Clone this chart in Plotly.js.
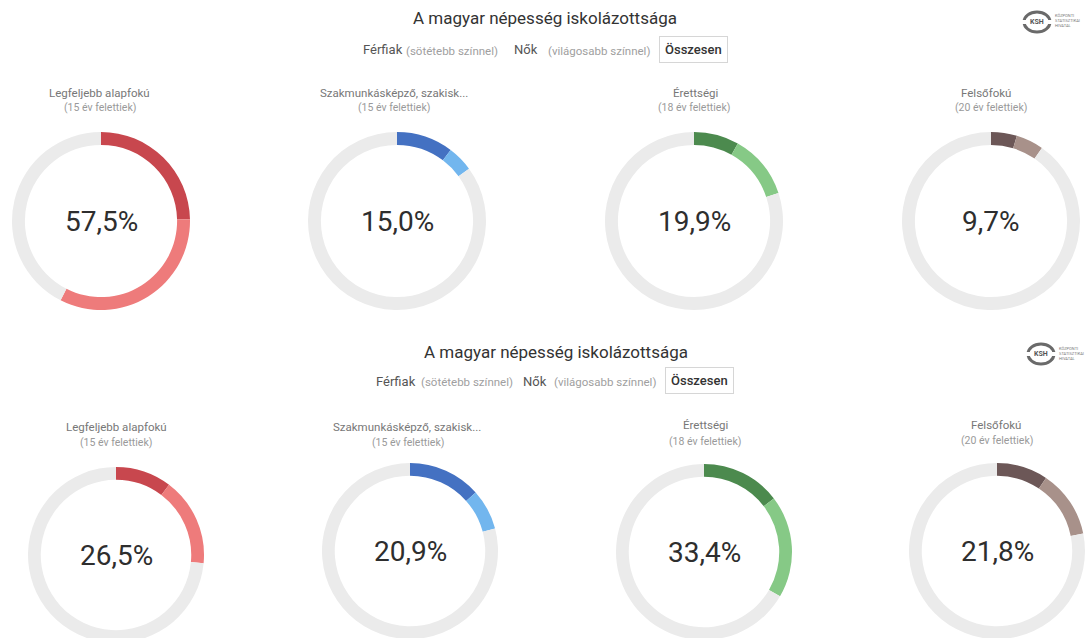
<!DOCTYPE html>
<html>
<head>
<meta charset="utf-8">
<script src="https://cdn.plot.ly/plotly-3.0.1.min.js"></script>
<style>
html,body{margin:0;padding:0;overflow:hidden;background:#fff;}
#chart{width:1089px;height:650px;}
</style>
</head>
<body>
<div id="chart"></div>
<script>
// ---- data ----
const categories = ["Legfeljebb alapfokú", "Szakmunkásképző, szakisk...", "Érettségi", "Felsőfokú"];
const ageNotes = ["(15 év felettiek)", "(15 év felettiek)", "(18 év felettiek)", "(20 év felettiek)"];
const menTop = [24.7, 10.3, 8.2, 4.7];
const womenTop = [32.8, 4.7, 11.7, 5.0];
const totalTop = [57.5, 15.0, 19.9, 9.7];
const menBottom = [10.3, 13.4, 14.6, 9.4];
const womenBottom = [16.2, 7.5, 18.8, 12.4];
const totalBottom = [26.5, 20.9, 33.4, 21.8];
const chartTitle = "A magyar népesség iskolázottsága";
const legendLabels = ["Férfiak", "(sötétebb színnel)", "Nők", "(világosabb színnel)"];
const buttonLabel = "Összesen";

// ---- styling / layout ----
const W = 1089, H = 650;
const darkColors = ["#c8474e", "#4471c2", "#4c8a4e", "#6c5757"];
const lightColors = ["#ee7b7b", "#72b6ee", "#86c986", "#a8918a"];
const restColor = "#ebebeb";
const FONT = "Roboto, 'Open Sans', sans-serif";

const panels = [
  {men: menTop, women: womenTop, total: totalTop,
   centers: [[101,221],[397,221],[694,221],[991,221]], r: 89,
   labelY: [93,93,93,93], noteY: [107,107,107,107], labelX: [100,394,695,986], noteX:[100,394,694,991],
   titleY: 18, titleX: 545, legX: [362,405,513,547], legY: 50, btnX: 693, btnY: 49, logo: [1037,22]},
  {men: menBottom, women: womenBottom, total: totalBottom,
   centers: [[116,555],[410,551],[704,552],[997,551]], r: 88,
   labelY: [427,427,425,425], noteY: [442,442,441,440], labelX: [116,407,705,996], noteX:[116,408,705,997],
   titleY: 352, titleX: 556, legX: [375,420,522,553], legY: 381, btnX: 699, btnY: 380, logo: [1041,354]}
];

const px = x => x / W;
const py = y => 1 - y / H;

const traces = [];
const annotations = [];
const shapes = [];

panels.forEach(p => {
  categories.forEach((cat, i) => {
    const [cx, cy] = p.centers[i];
    const r = p.r;
    const rest = Math.max(0, 100 - p.men[i] - p.women[i]);
    traces.push({
      type: "pie",
      values: [p.men[i], p.women[i], rest],
      labels: ["Férfiak", "Nők", "Egyéb"],
      sort: false,
      direction: "clockwise",
      rotation: 0,
      hole: 0.855,
      textinfo: "none",
      hoverinfo: "skip",
      showlegend: false,
      marker: {colors: [darkColors[i], lightColors[i], restColor], line: {width: 0}},
      domain: {x: [px(cx - r), px(cx + r)], y: [py(cy + r), py(cy - r)]}
    });
    annotations.push({
      x: px(cx), y: py(cy), xref: "paper", yref: "paper", showarrow: false,
      text: p.total[i].toFixed(1).replace(".", ",") + "%",
      font: {family: FONT, size: 28, color: "#2e2e2e"}, xanchor: "center", yanchor: "middle"
    });
    annotations.push({
      x: px(p.labelX[i]), y: py(p.labelY[i]), xref: "paper", yref: "paper", showarrow: false,
      text: cat, font: {family: FONT, size: 11.5, color: "#777"}, xanchor: "center", yanchor: "middle"
    });
    annotations.push({
      x: px(p.noteX[i]), y: py(p.noteY[i]), xref: "paper", yref: "paper", showarrow: false,
      text: ageNotes[i], font: {family: FONT, size: 10.5, color: "#9a9a9a"}, xanchor: "center", yanchor: "middle"
    });
  });
  // title
  annotations.push({
    x: px(p.titleX), y: py(p.titleY), xref: "paper", yref: "paper", showarrow: false,
    text: chartTitle, font: {family: FONT, size: 17, color: "#333", weight: 400},
    xanchor: "center", yanchor: "middle"
  });
  // legend line
  legendLabels.forEach((t, k) => {
    const small = (k % 2 === 1);
    annotations.push({
      x: px(p.legX[k]), y: py(p.legY + (small ? 1 : 0)), xref: "paper", yref: "paper", showarrow: false,
      text: t,
      font: {family: FONT, size: small ? 11.5 : 13, color: small ? "#a0a0a0" : "#555"},
      xanchor: "left", yanchor: "middle", borderpad: 0
    });
  });
  // button
  annotations.push({
    x: px(p.btnX), y: py(p.btnY), xref: "paper", yref: "paper", showarrow: false,
    text: buttonLabel, font: {family: FONT, size: 13, color: "#333", weight: 500},
    bordercolor: "#d6d6d6", borderwidth: 1, borderpad: 5, bgcolor: "#fff",
    xanchor: "center", yanchor: "middle"
  });
  // logo
  const [lx, ly] = p.logo;
  shapes.push({type: "circle", xref: "paper", yref: "paper",
    x0: px(lx - 13), x1: px(lx + 13), y0: py(ly + 10), y1: py(ly - 10),
    line: {color: "#6a6a6a", width: 3}});
  shapes.push({type: "rect", xref: "paper", yref: "paper",
    x0: px(lx - 16), x1: px(lx - 9), y0: py(ly + 2), y1: py(ly - 2),
    line: {width: 0}, fillcolor: "#fff"});
  shapes.push({type: "rect", xref: "paper", yref: "paper",
    x0: px(lx + 9), x1: px(lx + 16), y0: py(ly + 2), y1: py(ly - 2),
    line: {width: 0}, fillcolor: "#fff"});
  annotations.push({
    x: px(lx), y: py(ly), xref: "paper", yref: "paper", showarrow: false,
    text: "KSH", font: {family: FONT, size: 7, color: "#555", weight: 700},
    xanchor: "center", yanchor: "middle"
  });
  annotations.push({
    x: px(lx + 16), y: py(ly - 1), xref: "paper", yref: "paper", showarrow: false,
    text: "KÖZPONTI<br>STATISZTIKAI<br>HIVATAL", align: "left",
    font: {family: FONT, size: 4, color: "#777"},
    xanchor: "left", yanchor: "middle"
  });
});

const layout = {
  width: W, height: H,
  margin: {l: 0, r: 0, t: 0, b: 0},
  paper_bgcolor: "#fff",
  showlegend: false,
  annotations: annotations,
  shapes: shapes,
  font: {family: FONT}
};

Plotly.newPlot("chart", traces, layout, {displayModeBar: false, staticPlot: true});
</script>
</body>
</html>
